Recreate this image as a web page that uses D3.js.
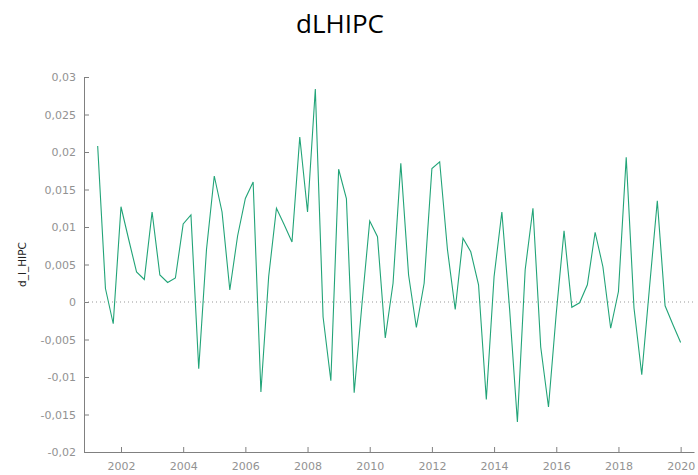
<!DOCTYPE html>
<html>
<head>
<meta charset="utf-8">
<script src="https://cdn.jsdelivr.net/npm/d3@7"></script>
<style>
    body { margin: 0; background: #fff; }
    #chart { width: 698px; height: 475px; }
    .axis text { font-family: "DejaVu Sans", Verdana, sans-serif; font-size: 11px; fill: #929292; }
    .axis path, .axis line { stroke: #808080; }
</style>
</head>
<body>
<div id="chart"></div>
<script>
// series: quarterly log-difference of HICP, first obs 2001:2
const startYear = 2001;
const startQuarter = 2;
const dlHipc = [
    0.0208, 0.0018, -0.0029, 0.0127, 0.0083, 0.0040, 0.0030, 0.0120,
    0.0036, 0.0026, 0.0032, 0.0104, 0.0116, -0.0089, 0.0070, 0.0168,
    0.0120, 0.0016, 0.0088, 0.0138, 0.0160, -0.0120, 0.0034, 0.0125,
    0.0103, 0.0080, 0.0220, 0.0120, 0.0284, -0.0020, -0.0105, 0.0177,
    0.0138, -0.0121, -0.0003, 0.0108, 0.0087, -0.0048, 0.0025, 0.0185,
    0.0036, -0.0034, 0.0025, 0.0178, 0.0187, 0.0070, -0.0010, 0.0085,
    0.0067, 0.0023, -0.0130, 0.0034, 0.0120, -0.0010, -0.0160, 0.0043,
    0.0125, -0.0060, -0.0140, -0.0015, 0.0095, -0.0007, -0.0001, 0.0023,
    0.0093, 0.0047, -0.0035, 0.0014, 0.0193, -0.0008, -0.0097, 0.0020,
    0.0135, -0.0005, -0.0030, -0.0054
];
const xTicks = [2002, 2004, 2006, 2008, 2010, 2012, 2014, 2016, 2018, 2020];
const yTicks = [-0.02, -0.015, -0.01, -0.005, 0, 0.005, 0.01, 0.015, 0.02, 0.025, 0.03];
const xDomain = [2000.81, 2020.43];
const yDomain = [-0.02, 0.03];

const config = {
    width: 698,
    height: 475,
    margin: {top: 77, bottom: 23, left: 84, right: 4},
    color: '#22a478',
    title: 'dLHIPC',
    yLabel: 'd_l_HIPC'
};

let width = config.width - config.margin.left - config.margin.right;
let height = config.height - config.margin.top - config.margin.bottom;

let data = dlHipc.map((v, i) => ({
    t: startYear + (startQuarter - 1 + i) / 4,
    v: v
}));

const svg = d3.select('#chart').append('svg')
    .attr('width', config.width)
    .attr('height', config.height);

const chart = svg.append('g')
    .attr('transform', `translate(${config.margin.left},${config.margin.top})`);

// scales
const xScale = d3.scaleLinear().domain(xDomain).range([0, width]);
const yScale = d3.scaleLinear().domain(yDomain).range([height, 0]);

// comma decimals like the original
const fmt = d => String(+d.toFixed(3)).replace('.', ',');

// axes with inward ticks
chart.append('g')
    .attr('class', 'axis x-axis')
    .attr('transform', `translate(0,${height})`)
    .call(d3.axisBottom(xScale).tickValues(xTicks).tickFormat(d3.format('d'))
        .tickSizeInner(-5).tickSizeOuter(0).tickPadding(10));

chart.append('g')
    .attr('class', 'axis y-axis')
    .call(d3.axisLeft(yScale).tickValues(yTicks).tickFormat(fmt)
        .tickSizeInner(-5).tickSizeOuter(0).tickPadding(8));

// dotted zero line
chart.append('line')
    .attr('x1', 0)
    .attr('x2', width)
    .attr('y1', yScale(0))
    .attr('y2', yScale(0))
    .attr('stroke', '#999')
    .attr('stroke-width', 1)
    .attr('stroke-dasharray', '1,3');

// series line
chart.append('path')
    .datum(data)
    .attr('fill', 'none')
    .attr('stroke', config.color)
    .attr('stroke-width', 1.1)
    .attr('d', d3.line().x(d => xScale(d.t)).y(d => yScale(d.v)));

// title and y label
svg.append('text')
    .attr('x', 340)
    .attr('y', 33)
    .attr('text-anchor', 'middle')
    .style('font-family', '"Open Sans", sans-serif')
    .style('font-size', '26px')
    .attr('fill', '#000')
    .text(config.title);

svg.append('text')
    .attr('transform', `translate(26,${config.margin.top + height / 2}) rotate(-90)`)
    .attr('text-anchor', 'middle')
    .style('font-family', '"DejaVu Sans", Verdana, sans-serif')
    .style('font-size', '10.5px')
    .attr('fill', '#222')
    .text(config.yLabel);
</script>
</body>
</html>
